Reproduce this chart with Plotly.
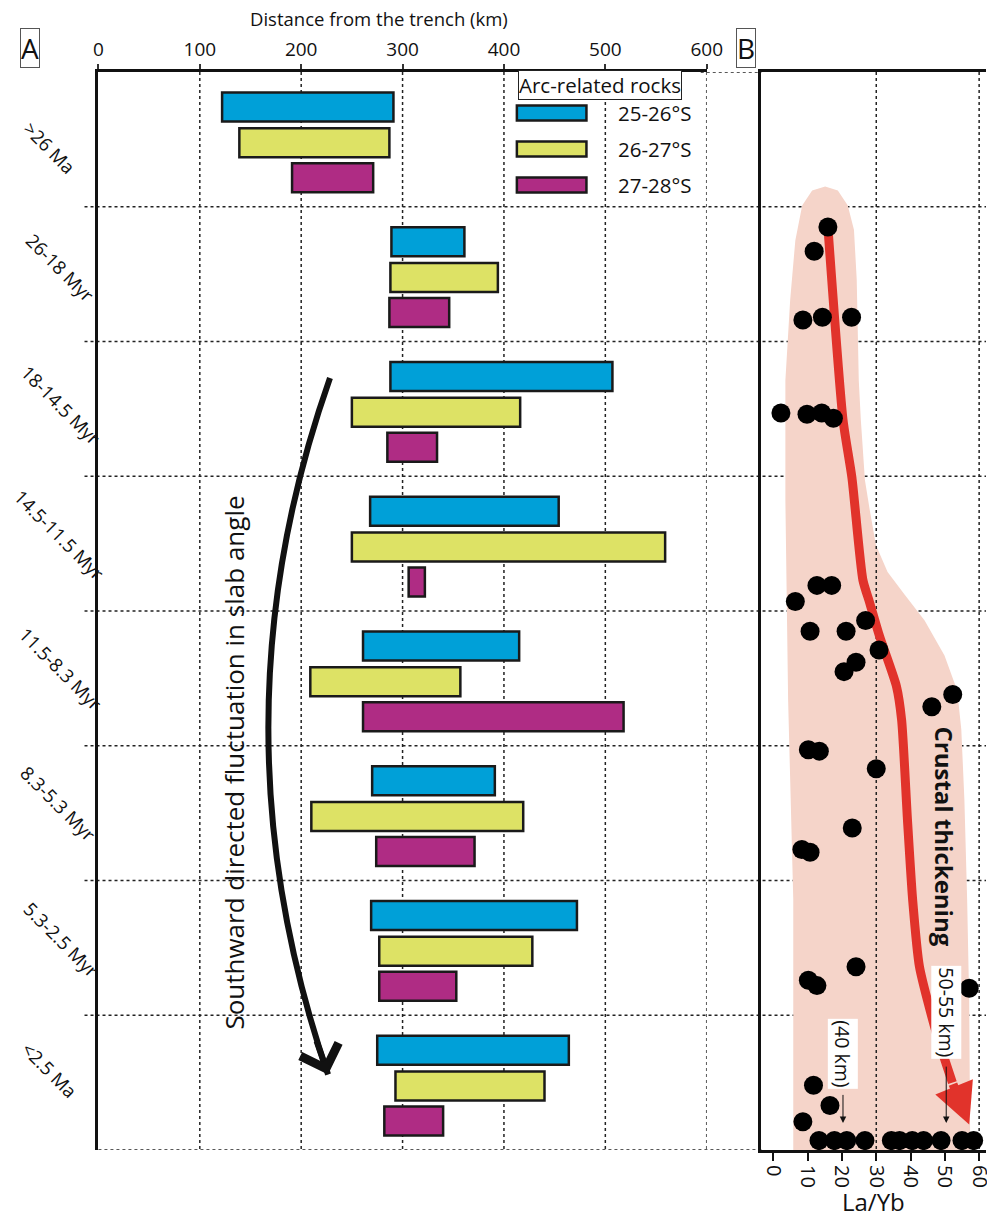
import plotly.graph_objects as go

# ---------------- data ----------------
periods = [">26 Ma", "26-18 Myr", "18-14.5 Myr", "14.5-11.5 Myr",
           "11.5-8.3 Myr", "8.3-5.3 Myr", "5.3-2.5 Myr", "<2.5 Ma"]

# distance from the trench (km): start / end of arc-related rocks per latitude band
start_25_26 = [122, 289, 288, 268, 261, 270, 269, 275]
end_25_26 = [291, 361, 507, 454, 415, 391, 472, 464]
start_26_27 = [139, 288, 250, 250, 209, 210, 277, 293]
end_26_27 = [287, 394, 416, 559, 357, 419, 428, 440]
start_27_28 = [191, 287, 285, 306, 261, 274, 277, 282]
end_27_28 = [271, 346, 334, 322, 518, 371, 353, 340]

band_names = ["25-26°S", "26-27°S", "27-28°S"]

dist_ticks = [0, 100, 200, 300, 400, 500, 600]
layb_ticks = [0, 10, 20, 30, 40, 50, 60]

# La/Yb samples (value, position on the age scale; 0 = top, 8 = bottom)
layb_val = [15.9, 11.9, 8.6, 14.3, 22.8, 2.2, 9.8, 14.1, 17.5,
            12.7, 17.0, 6.4, 10.7, 21.2, 26.9, 30.8, 24.1, 20.6, 46.2, 52.3,
            10.2, 13.4, 30.0, 23.0, 8.3, 10.7,
            24.1, 10.2, 12.7, 57.1, 11.7, 16.5, 8.6,
            13.3, 17.8, 21.4, 26.7, 34.4, 36.8, 40.5, 43.8, 48.9, 55.0, 58.4]
layb_age = [1.15, 1.33, 1.84, 1.82, 1.82, 2.53, 2.54, 2.53, 2.57,
            3.81, 3.81, 3.93, 4.15, 4.15, 4.07, 4.29, 4.38, 4.45, 4.71, 4.62,
            5.03, 5.04, 5.17, 5.61, 5.77, 5.79,
            6.64, 6.74, 6.78, 6.80, 7.52, 7.67, 7.79,
            7.93, 7.93, 7.93, 7.93, 7.93, 7.93, 7.93, 7.93, 7.93, 7.93, 7.93]

# outline of the La/Yb envelope
env_layb = [5.8, 5.8, 4.3, 3.5, 3.5, 4.9, 6.4, 8.4, 11.3, 15.1, 18.8, 21.7, 23.5,
            24.3, 24.9, 25.5, 26.7, 28.1, 29.9, 33.3, 38.3, 44.1, 49.9, 53.6,
            54.8, 55.7, 56.5, 57.1, 57.4]
env_age = [8.0, 6.14, 4.66, 3.18, 2.29, 1.69, 1.25, 0.99, 0.88, 0.85, 0.88, 0.99,
           1.17, 1.54, 2.29, 2.58, 3.03, 3.25, 3.51, 3.71, 3.88, 4.07, 4.33, 4.59,
           4.88, 5.40, 6.14, 6.89, 8.0]

# crustal thickening trend
trend_layb = [15.9, 20.3, 22.9, 26.1, 28.1, 31.0, 35.9, 37.4, 39.1, 40.6, 42.6, 47.5, 52.2]
trend_age = [1.15, 2.58, 3.01, 3.77, 3.94, 4.19, 4.56, 4.81, 5.55, 6.14, 6.64, 7.13, 7.50]
trend_tip = (57.1, 7.81)

# ---------------- styling ----------------
W, H = 987, 1217          # design frame (positions below are in this frame)
FIG_W = 1002              # rendered page width
FONT = "Open Sans"
colors = ["#00A0D8", "#DDE265", "#AF2C84"]
row_offsets = [0.26, 0.525, 0.785]
RED = "#E1332B"
INK = "#111111"
GRID = dict(color="#222222", width=1.5, dash="3px,3px")


def px(x):
    return x / W


def py(y):
    return 1 - y / H


def note(**kw):
    base = dict(xanchor="center", yanchor="middle", showarrow=False)
    base.update(kw)
    return base


ydom = [py(1150), py(72)]
n_rows = len(periods)

fig = go.Figure()

# ---------------- panel A: bars ----------------
starts = [start_25_26, start_26_27, start_27_28]
ends = [end_25_26, end_26_27, end_27_28]
for k in range(3):
    fig.add_trace(go.Bar(
        orientation="h",
        y=[i + row_offsets[k] for i in range(n_rows)],
        x=[e - s for s, e in zip(starts[k], ends[k])],
        base=starts[k],
        width=0.215,
        marker=dict(color=colors[k], line=dict(color="#1a1a1a", width=2.5)),
        name=band_names[k], showlegend=False,
        xaxis="x", yaxis="y",
    ))

# ---------------- panel B ----------------
fig.add_trace(go.Scatter(
    x=trend_layb, y=trend_age, mode="lines",
    line=dict(color=RED, width=9, shape="spline", smoothing=0.6),
    showlegend=False, xaxis="x2", yaxis="y2", hoverinfo="skip"))
fig.add_trace(go.Scatter(
    x=layb_val, y=layb_age, mode="markers",
    marker=dict(color="black", size=19),
    showlegend=False, xaxis="x2", yaxis="y2"))

shapes = []
# envelope
env_path = "M " + " L ".join(f"{a},{b}" for a, b in zip(env_layb, env_age)) + " Z"
shapes.append(dict(type="path", path=env_path, xref="x2", yref="y2",
                   fillcolor="#F5D4C9", line=dict(width=0), layer="below"))

# horizontal dotted grid lines running across both panels
for r in range(1, n_rows):
    shapes.append(dict(type="line", xref="paper", yref="y", x0=px(80), x1=1,
                       y0=r, y1=r, line=GRID, layer="below"))
shapes.append(dict(type="line", xref="paper", yref="y", x0=px(94), x1=px(761),
                   y0=n_rows, y1=n_rows, line=GRID, layer="below"))
shapes.append(dict(type="line", xref="paper", yref="y", x0=px(700), x1=px(761),
                   y0=0, y1=0, line=GRID, layer="below"))
# vertical dotted grid lines
for t in dist_ticks[1:]:
    shapes.append(dict(type="line", xref="x", yref="y", x0=t, x1=t, y0=0, y1=n_rows,
                       line=GRID, layer="below"))
for t in [30, 60]:
    shapes.append(dict(type="line", xref="x2", yref="y2", x0=t, x1=t, y0=0, y1=n_rows,
                       line=GRID, layer="below"))

# curved arrow for the southward fluctuation
arc_start = (228.4, 2.27)
arc_ctrl = (107.8, 4.84)
arc_end = (226.5, 7.44)
shapes.append(dict(type="path", xref="x", yref="y",
                   path=f"M {arc_start[0]},{arc_start[1]} Q {arc_ctrl[0]},{arc_ctrl[1]} {arc_end[0]},{arc_end[1]}",
                   line=dict(color=INK, width=6)))

# legend swatches
leg_rows = [113, 149, 185]
for k, yc in enumerate(leg_rows):
    shapes.append(dict(type="rect", xref="paper", yref="paper",
                       x0=px(515), x1=px(585), y0=py(yc - 7.5), y1=py(yc + 7.5),
                       fillcolor=colors[k], line=dict(color="#1a1a1a", width=2.5)))

annotations = []
# curved arrow head
annotations.append(dict(x=arc_end[0], y=arc_end[1], xref="x", yref="y",
                        ax=arc_end[0] - 0.1 * (arc_end[0] - arc_ctrl[0]),
                        ay=arc_end[1] - 0.1 * (arc_end[1] - arc_ctrl[1]),
                        axref="x", ayref="y", text="", showarrow=True,
                        arrowhead=4, arrowsize=1.3, arrowwidth=6, arrowcolor=INK))
annotations.append(note(x=px(230), y=py(763), xref="paper", yref="paper",
                        text="Southward directed fluctuation in slab angle",
                        textangle=-90, font=dict(family=FONT, size=26, color=INK)))

# period labels
label_x = [45, 56, 56, 55, 56, 54, 57, 45]
label_dy = [0.06, -0.05, -0.03, -0.07, -0.07, -0.07, -0.06, -0.1]
for i, lab in enumerate(periods):
    annotations.append(note(x=px(label_x[i]), y=i + 0.5 + label_dy[i],
                            xref="paper", yref="y", text=lab, textangle=45,
                            font=dict(family=FONT, size=18.5, color=INK)))

# legend text
annotations.append(note(x=px(599), y=py(85), xref="paper", yref="paper",
                        text="Arc-related rocks",
                        bordercolor="#222222", borderwidth=1, borderpad=0, bgcolor="white",
                        font=dict(family=FONT, size=20.5, color=INK)))
for k, yc in enumerate(leg_rows):
    annotations.append(note(x=px(615), y=py(yc), xref="paper", yref="paper",
                            xanchor="left", text=band_names[k],
                            font=dict(family=FONT, size=20.5, color=INK)))

# panel letters and axis titles
for letter, xc in [("A", 25), ("B", 746)]:
    annotations.append(note(x=px(xc), y=py(48), xref="paper", yref="paper", text=letter,
                            bordercolor="#555555", borderwidth=1, borderpad=0,
                            font=dict(family=FONT, size=28, color=INK)))
annotations.append(note(x=px(376), y=py(18), xref="paper", yref="paper",
                        text="Distance from the trench (km)",
                        font=dict(family=FONT, size=18.5, color=INK)))
annotations.append(note(x=px(874), y=py(1201), xref="paper", yref="paper",
                        text="La/Yb", font=dict(family=FONT, size=24, color=INK)))

# panel B annotations
annotations.append(dict(x=trend_tip[0], y=trend_tip[1], xref="x2", yref="y2",
                        ax=trend_layb[-1], ay=trend_age[-1], axref="x2", ayref="y2",
                        text="", showarrow=True, arrowhead=2, arrowsize=0.9,
                        arrowwidth=9, arrowcolor=RED))
annotations.append(note(x=49.9, y=5.67, xref="x2", yref="y2", text="<b>Crustal thickening</b>",
                        textangle=90, font=dict(family=FONT, size=24, color=INK)))
annotations.append(note(x=20.3, y=7.29, xref="x2", yref="y2", text="(40 km)",
                        textangle=90, bgcolor="white", borderpad=1,
                        font=dict(family=FONT, size=19.5, color=INK)))
annotations.append(dict(x=20.3, y=7.80, xref="x2", yref="y2", ax=20.3, ay=7.58,
                        axref="x2", ayref="y2", text="", showarrow=True,
                        arrowhead=2, arrowsize=1.3, arrowwidth=1, arrowcolor=INK))
annotations.append(note(x=50.4, y=6.98, xref="x2", yref="y2", text="50-55 km)",
                        textangle=90, bgcolor="white", borderpad=1,
                        font=dict(family=FONT, size=19.5, color=INK)))
annotations.append(dict(x=50.4, y=7.80, xref="x2", yref="y2", ax=50.4, ay=7.37,
                        axref="x2", ayref="y2", text="", showarrow=True,
                        arrowhead=2, arrowsize=1.3, arrowwidth=1, arrowcolor=INK))

fig.update_layout(
    width=FIG_W, height=H, autosize=False,
    margin=dict(l=0, r=0, t=0, b=0),
    paper_bgcolor="white", plot_bgcolor="rgba(0,0,0,0)",
    barmode="overlay", showlegend=False,
    font=dict(family=FONT, color=INK),
    xaxis=dict(domain=[px(94), px(706)], range=[0, 600], side="top", anchor="y",
               tickvals=dist_ticks, ticks="outside", ticklen=5, tickwidth=1.5,
               tickcolor="#333333", showline=True, linewidth=3, linecolor=INK,
               showgrid=False, zeroline=False, tickfont=dict(size=19, family=FONT)),
    yaxis=dict(domain=ydom, range=[n_rows, 0], anchor="x", showline=True,
               linewidth=3, linecolor=INK, showticklabels=False, ticks="",
               showgrid=False, zeroline=False),
    xaxis2=dict(domain=[px(761), 1], range=[-3.5, 62], anchor="y2", side="bottom",
                tickvals=layb_ticks, ticks="outside", ticklen=8, tickwidth=2,
                tickcolor=INK, tickangle=90, showline=True, mirror=True,
                linewidth=3, linecolor=INK, showgrid=False, zeroline=False,
                tickfont=dict(size=20, family=FONT)),
    yaxis2=dict(domain=ydom, range=[n_rows, 0], anchor="x2", showline=True,
                linewidth=3, linecolor=INK, showticklabels=False, ticks="",
                showgrid=False, zeroline=False),
    shapes=shapes, annotations=annotations,
)

fig.write_html(
    "out.html",
    config={"responsive": False},
    post_script="document.body.style.margin='0';document.body.style.overflow='hidden';",
)
